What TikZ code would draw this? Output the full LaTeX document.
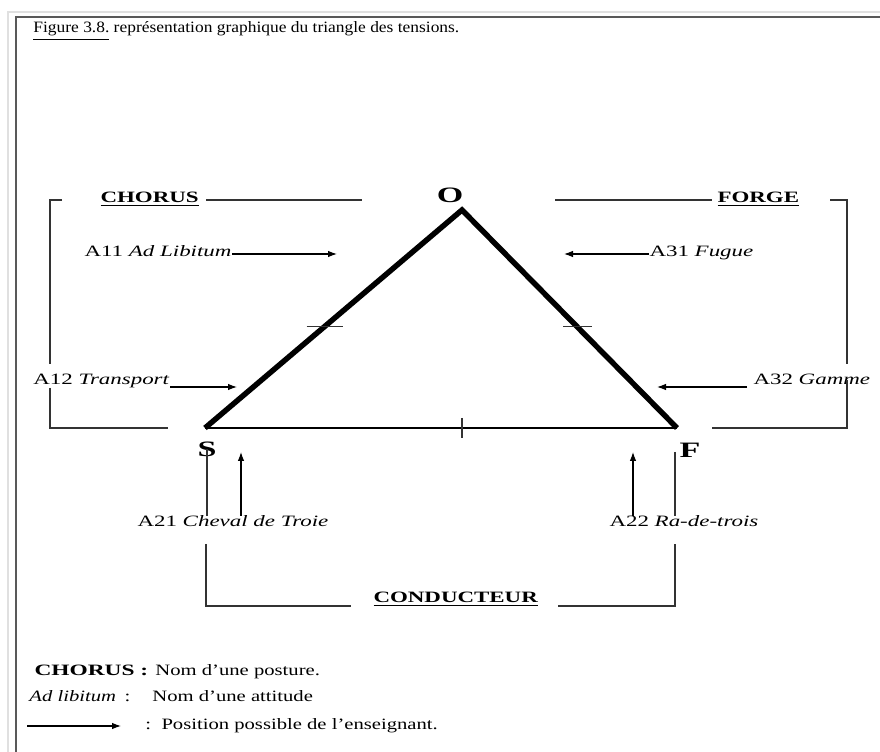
\documentclass[tikz,border=0pt]{standalone}
\usepackage{fontspec}
\setmainfont{Liberation Serif}
\usetikzlibrary{arrows.meta,calc}

\tikzset{
  side/.style={line width=3.1pt,line join=miter},
  basel/.style={line width=1.7pt},
  thin/.style={line width=0.6pt,black!80},
  teacher/.style={line width=0.6pt,-{Latex[length=1.8mm,width=1.3mm]}},
  txt/.style={font=\fontsize{9}{11}\selectfont,inner sep=0pt,xscale=1.45},
  legend/.style={txt,xscale=0.9},
  posture/.style={font=\fontsize{9}{11}\selectfont\bfseries,inner sep=0pt,xscale=1.45},
  vertex/.style={font=\fontsize{12.5}{14}\selectfont\bfseries,inner sep=0pt,xscale=1.55},
}

\begin{document}
\begin{tikzpicture}[x=0.2mm,y=-0.2mm]
\useasboundingbox (0,0) rectangle (880,752);
% page frame
\draw[black!12,line width=0.6pt] (8,752) -- (8,12) -- (880,12);
\draw[black!65,line width=1pt] (16,752) -- (16,17) -- (880,17);
\node[txt,xscale=0.76,anchor=base west] (title) at (33,33) {\underline{Figure 3.8.} représentation graphique du triangle des tensions.};

% triangle
\coordinate (O) at (462,210);
\coordinate (S) at (205,428);
\coordinate (F) at (677,428);
\draw[side] (S) -- (O) -- (F);
\draw[basel] (S) -- (F);
\draw[thin] ($(S)!0.465!(O)$) +(-18,0) -- +(18,0);
\draw[thin] ($(F)!0.465!(O)$) +(-14,0) -- +(15,0);
\draw[thin] (O |- S) +(0,-10) -- +(0,10);
\node[vertex] (lO) at (450,195) {O};
\node[vertex] (lS) at (207,449) {S};
\node[vertex] (lF) at (690,450) {F};

% postures
\node[posture,anchor=base west] (chorus) at (100,203) {\underline{CHORUS}};
\node[posture,anchor=base west] (forge) at (717,203) {\underline{FORGE}};
\node[posture,anchor=base west] (cond) at (373,603) {\underline{CONDUCTEUR}};

% attitudes
\node[txt,anchor=base east] (a11) at (232,257) {A11 \textit{Ad Libitum}};
\node[txt,anchor=base east] (a12) at (170,385) {A12 \textit{Transport}};
\node[txt,anchor=base west] (a31) at (649,257) {A31 \textit{Fugue}};
\node[txt,anchor=base west] (a32) at (753,385) {A32 \textit{Gamme}};
\node[txt,anchor=base west] (a21) at (137,527) {A21 \textit{Cheval de Troie}};
\node[txt,anchor=base west] (a22) at (609,527) {A22 \textit{Ra-de-trois}};

% teacher positions
\coordinate (p11) at (337,254);
\coordinate (p12) at (237,387);
\coordinate (p31) at (564,254);
\coordinate (p32) at (657,387);
\coordinate (p21) at (241,452);
\coordinate (p22) at (633,452);
\draw[teacher] (a11.base east) ++(0,-3) -- (p11);
\draw[teacher] (a12.base east) ++(0,2) -- (p12);
\draw[teacher] (a31.base west) ++(0,-3) -- (p31);
\draw[teacher] (a32.base west) ++(-6,2) -- (p32);
\draw[teacher] (p21 |- a21.north) -- (p21);
\draw[teacher] (p22 |- a22.north) -- (p22);

% brackets
\coordinate (fl) at (675,452);
\draw[thin] (206,200) -- (362,200);
\draw[thin] (62,200) -- (50,200) -- (50,364);
\draw[thin] (50,388) -- (50,428) -- (168,428);
\draw[thin] (555,200) -- (712,200);
\draw[thin] (830,200) -- (847,200) -- (847,364);
\draw[thin] (847,380) -- (847,428) -- (712,428);
\draw[thin] (lS.center) -- (lS.center |- a21.north);
\draw[thin] (206,544) -- (206,606) -- (351,606);
\draw[thin] (558,606) -- (675,606) -- (675,544);
\draw[thin] (fl) -- (fl |- a22.north);

% legend
\node[posture,xscale=1.02,anchor=base west] (lgchorus) at (34,675) {CHORUS :};
\node[legend,anchor=base west] (lgposture) at (155,675) {Nom d’une posture.};
\node[legend,anchor=base west] (lgadlib) at (29,701) {\textit{Ad libitum}\, :};
\node[legend,anchor=base west] (lgattitude) at (152,701) {Nom d’une attitude};
\coordinate (k0) at (27,726);
\coordinate (k1) at (121,726);
\draw[teacher] (k0) -- (k1);
\node[legend,anchor=base west] (lgposition) at (145,729) {:\ \ Position possible de l’enseignant.};
\end{tikzpicture}
\end{document}
